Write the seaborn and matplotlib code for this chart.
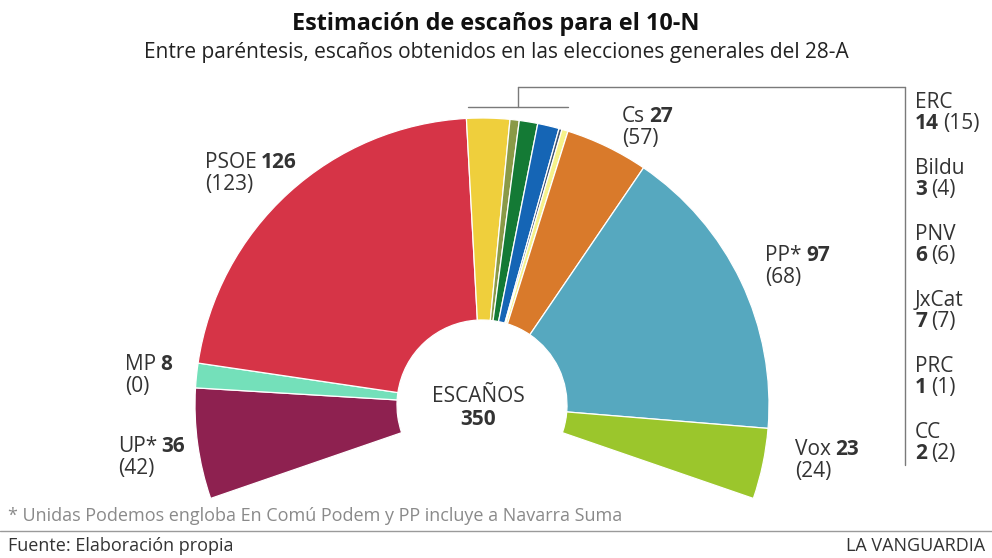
import matplotlib
matplotlib.use("Agg")
import matplotlib.pyplot as plt
import seaborn as sns

# ---------------- data ----------------
parties = ["UP*", "MP", "PSOE", "ERC", "Bildu", "PNV", "JxCat", "PRC", "CC", "Cs", "PP*", "Vox"]
seats_10n = [36, 8, 126, 14, 3, 6, 7, 1, 2, 27, 97, 23]
seats_28a = [42, 0, 123, 15, 4, 6, 7, 1, 2, 57, 68, 24]
party_colors = ["#8e2150", "#74e0ba", "#d63447", "#efcf3c", "#8a9a47", "#147a35",
                "#1565b5", "#3f5570", "#f6f38a", "#d97a2b", "#56a8bf", "#9bc62c"]
side_parties = ["UP*", "MP", "PSOE", "Cs", "PP*", "Vox"]
small_parties = ["ERC", "Bildu", "PNV", "JxCat", "PRC", "CC"]

title = "Estimación de escaños para el 10-N"
subtitle = "Entre paréntesis, escaños obtenidos en las elecciones generales del 28-A"
center_label = "ESCAÑOS"
footnote = "* Unidas Podemos engloba En Comú Podem y PP incluye a Navarra Suma"
source = "Fuente: Elaboración propia"
brand = "LA VANGUARDIA"

# ---------------- style ----------------
sns.set_theme(style="white")
plt.rcParams["font.family"] = ["Open Sans", "DejaVu Sans"]

W, H = 992, 558
fig = plt.figure(figsize=(W / 100, H / 100), dpi=100)
ax = fig.add_axes([0, 0, 1, 1])


def Y(py):
    return H - py


TXT = "#333333"
LBL = 15

# ---------------- hemicycle ----------------
cx, cy = 482, 405
r_out, r_in = 287, 85
arc_span = 218.0
total = sum(seats_10n)
hidden = total * (360 - arc_span) / arc_span

wedges, _ = ax.pie(seats_10n + [hidden], colors=party_colors + ["white"],
                   startangle=180 + (arc_span - 180) / 2, counterclock=False,
                   center=(cx, Y(cy)), radius=r_out, frame=True,
                   wedgeprops=dict(width=r_out - r_in, edgecolor="white", linewidth=0.9))
wedges[-1].set_visible(False)

ax.set_xlim(0, W)
ax.set_ylim(0, H)
ax.set_aspect("auto")
ax.axis("off")

renderer = fig.canvas.get_renderer()
inv = ax.transData.inverted()


def runs(x, y, parts, size=LBL, color=TXT, ha="left"):
    for txt, weight in parts:
        if txt == " ":
            x += size * 0.30
            continue
        t = ax.text(x, Y(y), txt, fontsize=size, fontweight=weight, color=color,
                    va="baseline", ha=ha)
        bb = t.get_window_extent(renderer=renderer)
        x = inv.transform((bb.x1, bb.y0))[0]


# side labels
label_pos = {"UP*": (118, 452), "MP": (125, 370), "PSOE": (205, 168),
             "Cs": (622, 122), "PP*": (765, 261), "Vox": (795, 455)}
for p in side_parties:
    i = parties.index(p)
    x, y = label_pos[p]
    runs(x, y, [(p, "normal"), (" ", None), (str(seats_10n[i]), "bold")])
    runs(x, y + 22, [("(%d)" % seats_28a[i], "normal")])

# right-hand legend for small parties
for k, p in enumerate(small_parties):
    i = parties.index(p)
    y = 108 + 66 * k
    runs(915, y, [(p, "normal")])
    runs(915, y + 21, [(str(seats_10n[i]), "bold"), (" ", None), ("(%d)" % seats_28a[i], "normal")])

# bracket lines
lc = "#7a7a7a"
ax.plot([468, 568], [Y(107), Y(107)], color=lc, lw=1)
ax.plot([518, 518], [Y(107), Y(87)], color=lc, lw=1)
ax.plot([518, 905], [Y(87), Y(87)], color=lc, lw=1)
ax.plot([905, 905], [Y(87), Y(465)], color=lc, lw=1)

# center
ax.text(478, Y(402), center_label, fontsize=LBL, color=TXT, ha="center", va="baseline")
ax.text(478, Y(425), str(total), fontsize=LBL, fontweight="bold", color=TXT, ha="center", va="baseline")

# titles
ax.text(W / 2, Y(30), title, fontsize=16.8, fontweight="bold", color="#111111", ha="center", va="baseline")
ax.text(W / 2, Y(58), subtitle, fontsize=15, color="#222222", ha="center", va="baseline")

# footer
ax.text(8, Y(521), footnote, fontsize=13, color="#8a8a8a", ha="left", va="baseline")
ax.plot([0, W], [Y(531), Y(531)], color="#9a9a9a", lw=1)
ax.text(8, Y(551), source, fontsize=13, color=TXT, ha="left", va="baseline")
ax.text(985, Y(551), brand, fontsize=13, color=TXT, ha="right", va="baseline")

fig.savefig("out.png", dpi=100, facecolor="white")
